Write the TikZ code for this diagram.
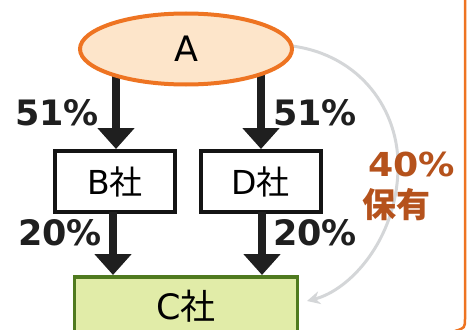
\documentclass[tikz,border=0pt]{standalone}
\usepackage{fontspec}
\setmainfont{DejaVu Sans}
\newfontfamily\cjk{Noto Sans CJK JP}
\usetikzlibrary{arrows.meta,shapes.geometric}
\definecolor{aorange}{HTML}{EE7422}
\definecolor{apeach}{HTML}{FDE5CA}
\definecolor{cgreen}{HTML}{4F7A1F}
\definecolor{cfill}{HTML}{E1ECA8}
\definecolor{pctbrown}{HTML}{B5521C}
\definecolor{curvegrey}{HTML}{D4D6D8}
\tikzset{
  company/.style={draw=black!92, line width=4pt, fill=white, minimum width=120pt, minimum height=61pt, inner sep=0pt, font=\fontsize{33}{33}\selectfont},
  bigarrow/.style={line width=8pt, draw=black!88, -{Triangle[width=36pt,length=21pt]}},
  pct/.style={font=\fontsize{35}{35}\selectfont\bfseries, text=black!88, inner sep=0pt},
}
\begin{document}
\begin{tikzpicture}[x=1pt,y=-1pt]
\useasboundingbox (0,0) rectangle (468,329);
% frame edge on right
\coordinate (f1) at (465,-2);
\coordinate (f2) at (465,318);
\coordinate (f3) at (455,331);
\draw[aorange, line width=2.5pt] (f1) -- (f2) .. controls (465,328) .. (f3);
% nodes
\node[company] (B) at (115,181.5) {B{\cjk 社}};
\node[company] (D) at (260.5,181.5) {D{\cjk 社}};
\node[draw=cgreen, line width=3.5pt, fill=cfill, minimum width=223pt, minimum height=64pt, inner sep=0pt, anchor=north] (C) at (186,275) {};
\node[font=\fontsize{35}{35}\selectfont] (Ct) at (186,306) {C{\cjk 社}};
% arrows from A
\coordinate (Ac) at (186,49);
\coordinate (a1) at (116,49);
\coordinate (a2) at (261,49);
\draw[bigarrow] (a1) -- (a1 |- B.north);
\draw[bigarrow] (a2) -- (a2 |- B.north);
% grey curve
\coordinate (gs) at (292,46);
\coordinate (gt) at (307,301);
\draw[curvegrey, line width=3pt, -{Stealth[length=13pt,width=13pt]}]
  (gs) .. controls (360,55) and (400,110) .. (398,170)
  .. controls (396,240) and (350,290) .. (gt);
% ellipse
\node[draw=aorange, line width=4pt, fill=apeach, ellipse, minimum width=212pt, minimum height=71pt, inner sep=0pt, font=\fontsize{35}{35}\selectfont] (A) at (Ac) {A};
% lower arrows
\coordinate (b1) at (113,212);
\coordinate (b2) at (262,212);
\draw[bigarrow] (b1) -- (b1 |- C.north);
\draw[bigarrow] (b2) -- (b2 |- C.north);
% labels
\node[pct, anchor=west] (p1) at (15,113) {51\%};
\node[pct, anchor=west] (p2) at (273,113) {51\%};
\node[pct, anchor=west] (p3) at (18,233) {20\%};
\node[pct, anchor=west] (p4) at (273,233) {20\%};
\node[font=\fontsize{33}{33}\selectfont\bfseries, text=pctbrown, inner sep=0pt, anchor=west, xscale=1.1] (p5) at (368,164) {40\%};
\node[font=\fontsize{34}{34}\selectfont\bfseries\cjk, text=pctbrown, inner sep=0pt, anchor=west] (p6) at (362,205) {保有};
\end{tikzpicture}
\end{document}
